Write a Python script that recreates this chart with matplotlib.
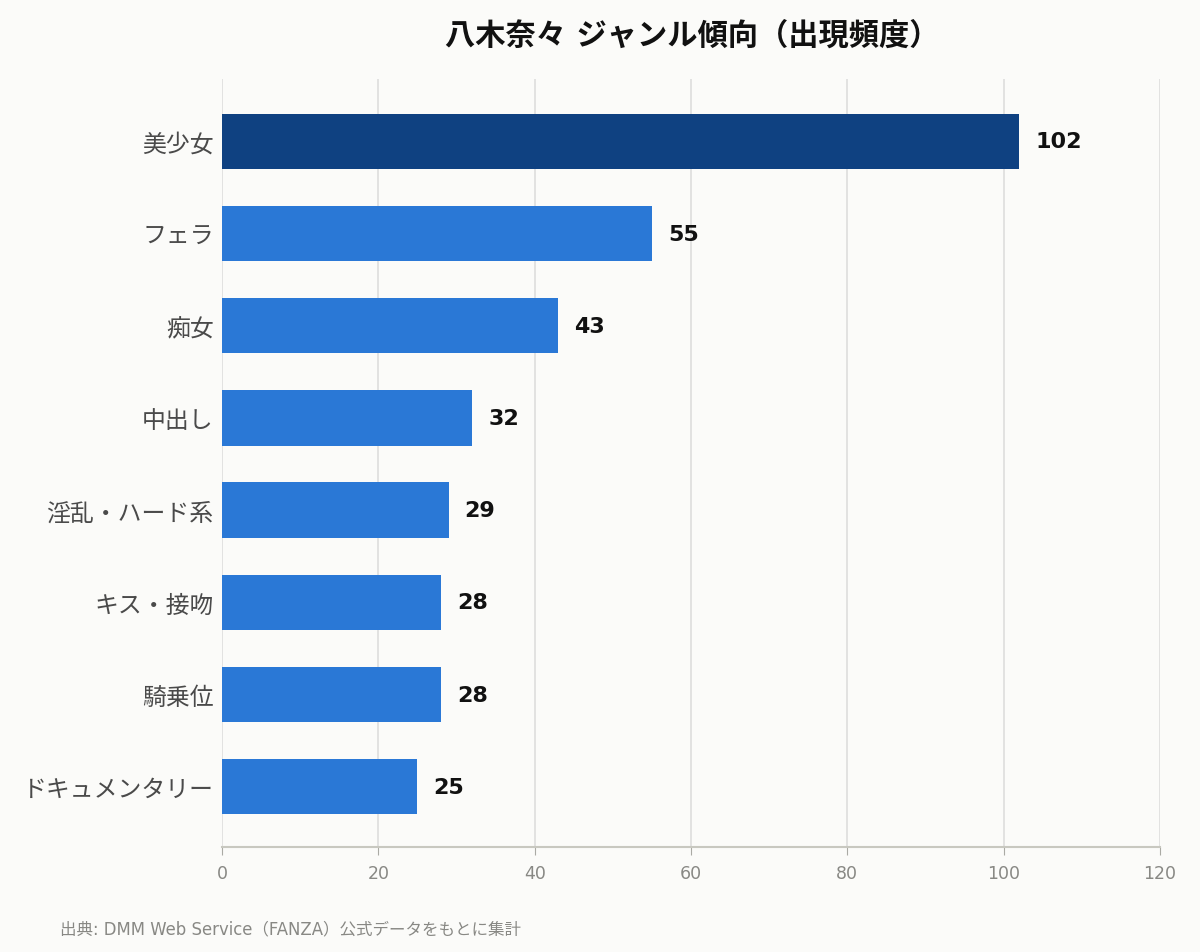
import matplotlib
matplotlib.use("Agg")
import matplotlib.pyplot as plt

plt.rcParams['font.family'] = ['DejaVu Sans', 'Noto Sans CJK JP']

categories = ["美少女", "フェラ", "痴女", "中出し", "淫乱・ハード系", "キス・接吻", "騎乗位", "ドキュメンタリー"]
values = [102, 55, 43, 32, 29, 28, 28, 25]
xticks = [0, 20, 40, 60, 80, 100, 120]
title = "八木奈々 ジャンル傾向（出現頻度）"
source = "出典: DMM Web Service（FANZA）公式データをもとに集計"

bg = "#fbfbf9"
fig = plt.figure(figsize=(12, 9.53), dpi=100, facecolor=bg)
ax = fig.add_axes([0.185, 0.110, 0.7817, 0.806], facecolor=bg)

colors = ["#0f4181" if i == 0 else "#2a78d6" for i in range(len(values))]
y = list(range(len(categories)))
ax.barh(y, values, height=0.6, color=colors, zorder=3)
ax.set_ylim(len(categories) - 1 + 0.655, -0.675)
ax.set_xlim(0, 120)
ax.set_yticks(y)
ax.set_yticklabels(categories, fontsize=17.2, color="#4a4a4a")
ax.set_xticks(xticks)
ax.set_xticklabels([str(t) for t in xticks], fontsize=12.5, color="#888884")
ax.tick_params(axis='y', length=0, pad=6)
ax.tick_params(axis='x', length=6, color="#aaaaa4", pad=6)
ax.grid(axis='x', color="#dddddd", linewidth=1.2, zorder=0)
for s in ['top', 'right', 'left']:
    ax.spines[s].set_visible(False)
ax.spines['bottom'].set_color("#c8c8c0")
ax.spines['bottom'].set_linewidth(1.5)

for yi, v in zip(y, values):
    ax.annotate(str(v), xy=(v, yi), xytext=(11.5, 0), textcoords='offset points',
                va='center', ha='left', fontsize=16, fontweight='bold', color="#111111")

fig.text(0.577, 0.962, title, ha='center', va='center', fontsize=21.8, fontweight='bold', color="#111111")
fig.text(0.05, 0.025, source, ha='left', va='center', fontsize=11.9, color="#888884")

fig.savefig("out.png", dpi=100, facecolor=bg)
